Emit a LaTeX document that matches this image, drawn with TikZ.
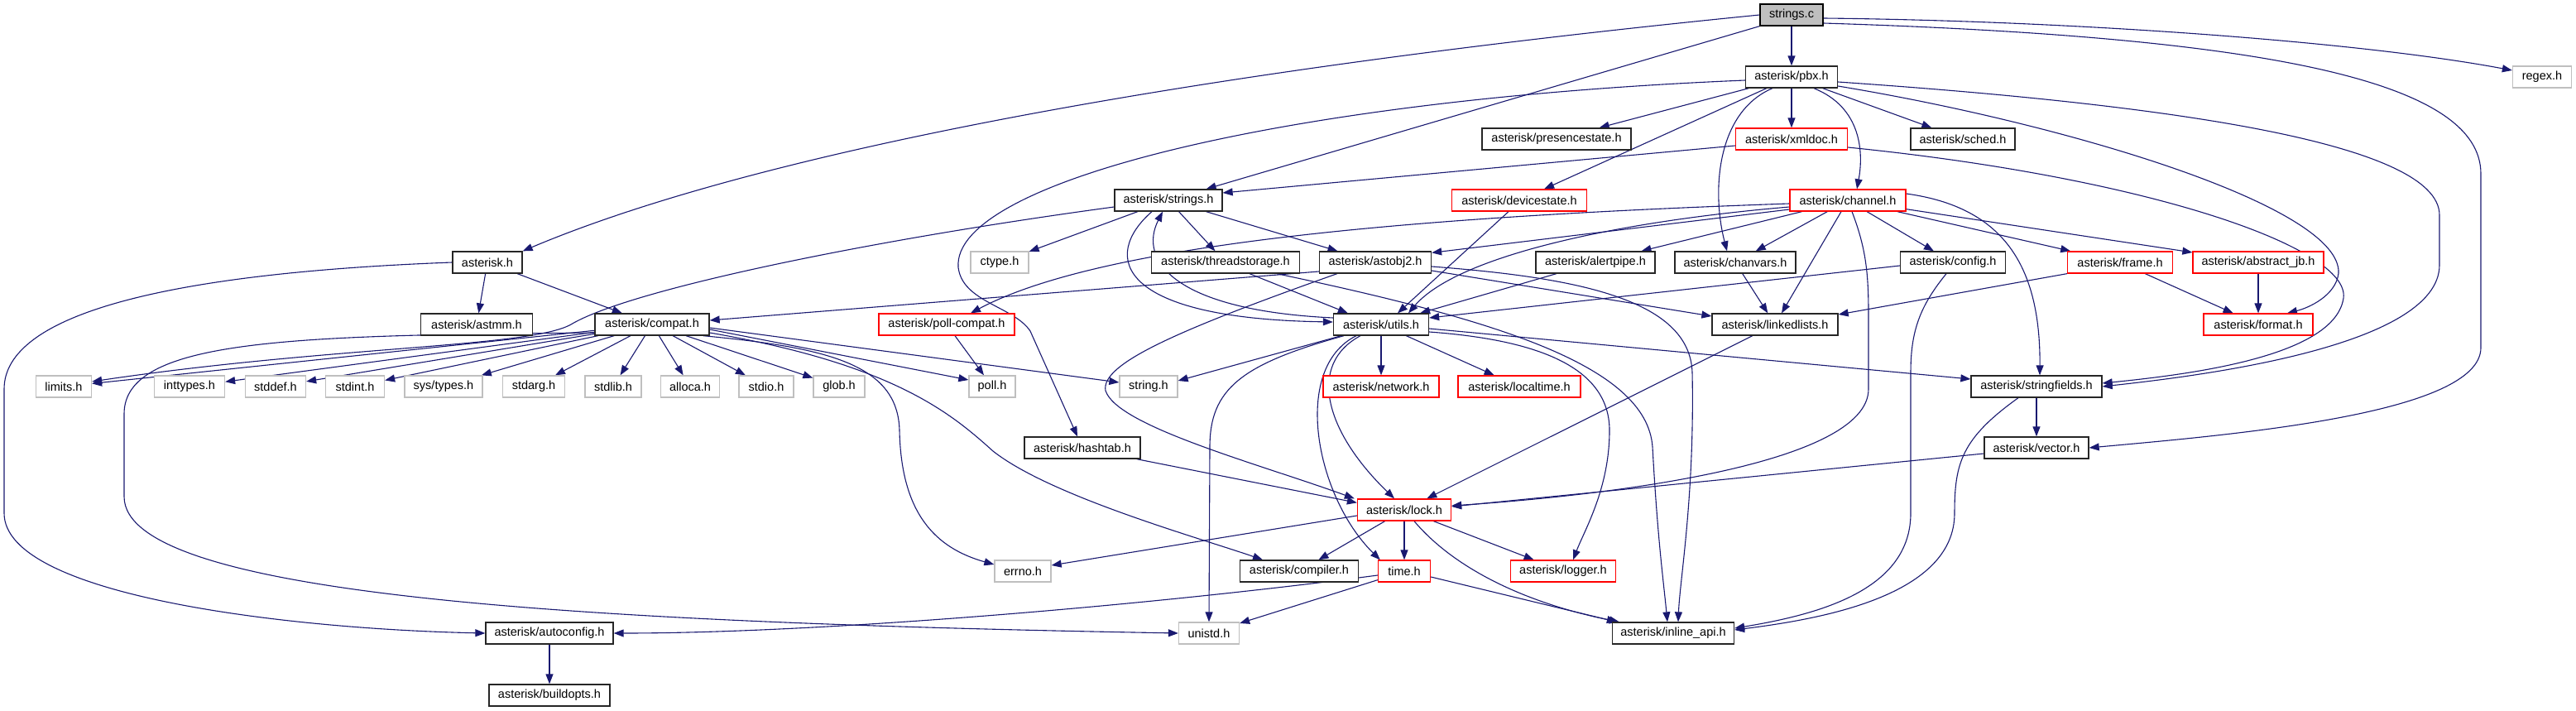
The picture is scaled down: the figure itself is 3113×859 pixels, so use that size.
\documentclass[tikz,border=0pt]{standalone}
\usepackage{fontspec}
\setmainfont{Liberation Sans}
\usetikzlibrary{arrows.meta,calc}
\definecolor{edgeblue}{HTML}{191970}
\definecolor{sysgray}{HTML}{BFBFBF}
\pgfdeclarelayer{bg}
\pgfsetlayers{bg,main}
\tikzset{
  nbox/.style={draw=black!85, line width=1.3pt, fill=white, minimum height=26pt, inner sep=0pt, font=\fontsize{14.5}{17}\selectfont},
  hdr/.style={nbox},
  redbox/.style={nbox, draw=red},
  sysbox/.style={nbox, draw=sysgray},
  rootbox/.style={nbox, fill=sysgray, draw=black},
  dep/.style={draw=edgeblue, line width=1.1pt, -{Triangle[length=12pt,width=9pt]}},
}
\begin{document}
\begin{tikzpicture}[x=1pt,y=-1pt]
\useasboundingbox (0,0) rectangle (3113,859);
% ---- nodes ----
\node[rootbox, minimum width=76pt] (sc) at (2165,18) {strings.c};
\node[hdr, minimum width=111pt] (pbx) at (2165,93) {asterisk/pbx.h};
\node[sysbox, minimum width=71pt] (regex) at (3072,93) {regex.h};
\node[hdr, minimum width=180pt] (pres) at (1881,168) {asterisk/presencestate.h};
\node[redbox, minimum width=135pt] (xmldoc) at (2165,168) {asterisk/xmldoc.h};
\node[hdr, minimum width=126pt] (sched) at (2372,168) {asterisk/sched.h};
\node[hdr, minimum width=130pt] (strh) at (1412,242) {asterisk/strings.h};
\node[redbox, minimum width=163pt] (dev) at (1836,242) {asterisk/devicestate.h};
\node[redbox, minimum width=140pt] (chan) at (2233,242) {asterisk/channel.h};
\node[hdr, minimum width=84pt] (ast) at (589,317) {asterisk.h};
\node[sysbox, minimum width=70pt] (ctype) at (1208,317) {ctype.h};
\node[hdr, minimum width=179pt] (thr) at (1481,317) {asterisk/threadstorage.h};
\node[hdr, minimum width=135pt] (aobj) at (1662,317) {asterisk/astobj2.h};
\node[hdr, minimum width=144pt] (alert) at (1928,317) {asterisk/alertpipe.h};
\node[hdr, minimum width=146pt] (chanvars) at (2097,317) {asterisk/chanvars.h};
\node[hdr, minimum width=127pt] (config) at (2360,317) {asterisk/config.h};
\node[redbox, minimum width=127pt] (frame) at (2562,317) {asterisk/frame.h};
\node[redbox, minimum width=158pt] (ajb) at (2729,317) {asterisk/abstract\_jb.h};
\node[hdr, minimum width=135pt] (astmm) at (576,392) {asterisk/astmm.h};
\node[hdr, minimum width=138pt] (compat) at (788,392) {asterisk/compat.h};
\node[redbox, minimum width=164pt] (pollc) at (1144,392) {asterisk/poll-compat.h};
\node[hdr, minimum width=115pt] (utils) at (1669,392) {asterisk/utils.h};
\node[hdr, minimum width=152pt] (ll) at (2145,392) {asterisk/linkedlists.h};
\node[redbox, minimum width=132pt] (format) at (2729,392) {asterisk/format.h};
\node[sysbox, minimum width=67pt] (limits) at (77,467) {limits.h};
\node[sysbox, minimum width=85pt] (inttypes) at (229,467) {inttypes.h};
\node[sysbox, minimum width=73pt] (stddef) at (333,467) {stddef.h};
\node[sysbox, minimum width=71pt] (stdint) at (429,467) {stdint.h};
\node[sysbox, minimum width=94pt] (systypes) at (536,467) {sys/types.h};
\node[sysbox, minimum width=75pt] (stdarg) at (645,467) {stdarg.h};
\node[sysbox, minimum width=68pt] (stdlib) at (741,467) {stdlib.h};
\node[sysbox, minimum width=71pt] (alloca) at (834,467) {alloca.h};
\node[sysbox, minimum width=66pt] (stdio) at (926,467) {stdio.h};
\node[sysbox, minimum width=62pt] (glob) at (1014,467) {glob.h};
\node[sysbox, minimum width=56pt] (poll) at (1199,467) {poll.h};
\node[sysbox, minimum width=70pt] (string) at (1388,467) {string.h};
\node[redbox, minimum width=140pt] (network) at (1669,467) {asterisk/network.h};
\node[redbox, minimum width=148pt] (localtime) at (1836,467) {asterisk/localtime.h};
\node[hdr, minimum width=158pt] (sf) at (2461,467) {asterisk/stringfields.h};
\node[hdr, minimum width=140pt] (hashtab) at (1308,541) {asterisk/hashtab.h};
\node[hdr, minimum width=126pt] (vector) at (2461,541) {asterisk/vector.h};
\node[redbox, minimum width=113pt] (lock) at (1697,616) {asterisk/lock.h};
\node[sysbox, minimum width=68pt] (errno) at (1236,690) {errno.h};
\node[hdr, minimum width=143pt] (compiler) at (1570,690) {asterisk/compiler.h};
\node[redbox, minimum width=63pt] (time) at (1697,690) {time.h};
\node[redbox, minimum width=127pt] (logger) at (1889,690) {asterisk/logger.h};
\node[hdr, minimum width=154pt] (autoconf) at (664,765) {asterisk/autoconfig.h};
\node[sysbox, minimum width=73pt] (unistd) at (1461,765) {unistd.h};
\node[hdr, minimum width=147pt] (inline) at (2022,765) {asterisk/inline\_api.h};
\node[hdr, minimum width=146pt] (buildopts) at (664,840) {asterisk/buildopts.h};
% ---- edges ----
\begin{pgfonlayer}{bg}
% strings.c
\draw[dep] (sc) -- (pbx);
\draw[dep] (sc.west) .. controls (1400,90) and (900,190) .. (ast.north east);
\draw[dep] (sc.south west) -- ($(strh.north east)+(-20,0)$);
\draw[dep] ($(sc.east)+(0,4)$) .. controls (2500,25) and (2850,50) .. ($(regex.west)+(0,-8)$);
\draw[dep] ($(sc.east)+(0,10)$) .. controls (2750,45) and (2998,100) .. (2998,210) -- (2998,420) .. controls (2998,500) and (2700,525) .. (vector.east);
% pbx.h
\draw[dep] (pbx) -- (pres);
\draw[dep] (pbx) -- (xmldoc);
\draw[dep] (pbx) -- (sched);
\draw[dep] (pbx) -- (dev);
\draw[dep] ($(pbx.south)+(27,0)$) .. controls (2250,130) and (2252,185) .. ($(chan.north)+(11,0)$);
\draw[dep] ($(pbx.south)+(-23,0)$) .. controls (2075,135) and (2068,230) .. ($(chanvars.north)+(-10,0)$);
\draw[dep] ($(pbx.west)+(0,4)$) .. controls (1550,120) and (1150,220) .. (1158,323) .. controls (1163,365) and (1225,370) .. (1245,400) -- ($(hashtab.north)+(-6,0)$);
\draw[dep] ($(pbx.east)+(0,6)$) .. controls (2600,125) and (2948,170) .. (2948,260) -- (2948,320) .. controls (2948,420) and (2650,455) .. (sf.east);
\draw[dep] ($(pbx.east)+(0,11)$) .. controls (2500,150) and (2830,250) .. (2826,330) .. controls (2823,357) and (2790,372) .. ($(format.north)+(35,0)$);
% xmldoc.h
\draw[dep] ($(xmldoc.west)+(0,8)$) -- ($(strh.east)+(0,-9)$);
\draw[dep] ($(xmldoc.east)+(0,10)$) .. controls (2600,215) and (2840,300) .. (2832,360) .. controls (2822,430) and (2650,452) .. ($(sf.east)+(0,-4)$);
% devicestate.h
\draw[dep] ($(dev.south)+(-13,0)$) -- ($(utils.north)+(20,0)$);
% channel.h
\draw[dep] ($(chan.west)+(0,4)$) .. controls (1700,262) and (1330,295) .. ($(pollc.north)+(29,0)$);
\draw[dep] ($(chan.west)+(0,8)$) .. controls (1950,268) and (1760,310) .. ($(utils.north)+(33,0)$);
\draw[dep] ($(chan.west)+(0,11)$) -- ($(aobj.north east)+(0,2)$);
\draw[dep] (chan) -- (alert);
\draw[dep] (chan) -- (chanvars);
\draw[dep] (chan) -- (ll);
\draw[dep] ($(chan.south)+(5,0)$) .. controls (2255,300) and (2258,330) .. (2258,380) -- (2258,470) .. controls (2258,560) and (1950,598) .. ($(lock.east)+(0,-5)$);
\draw[dep] (chan) -- (config);
\draw[dep] ($(chan.east)+(0,-8)$) .. controls (2420,250) and (2466,320) .. ($(sf.north)+(4,0)$);
\draw[dep] (chan) -- (frame);
\draw[dep] (chan) -- (ajb);
% astobj2.h
\draw[dep] ($(aobj.west)+(0,11)$) -- ($(compat.east)+(0,-5)$);
\draw[dep] ($(aobj.south west)+(22,0)$) .. controls (1420,400) and (1330,440) .. (1336,472) .. controls (1350,515) and (1520,560) .. ($(lock.north west)+(-3,0)$);
\draw[dep] ($(aobj.east)+(0,10)$) -- ($(ll.west)+(0,-10)$);
\draw[dep] ($(aobj.east)+(0,5)$) .. controls (1900,335) and (2042,360) .. (2045,450) .. controls (2048,600) and (2030,700) .. ($(inline.north)+(6,0)$);
% threadstorage.h
\draw[dep] ($(thr.south)+(29,0)$) -- ($(utils.north west)+(18,0)$);
\draw[dep] ($(thr.south)+(62,0)$) .. controls (1800,385) and (1990,440) .. (1997,540) .. controls (2003,650) and (2010,700) .. ($(inline.north)+(-7,0)$);
% strings.h
\draw[dep] (strh) -- (ctype);
\draw[dep] (strh) -- (thr);
\draw[dep] (strh) -- (aobj);
\draw[dep] ($(strh.south)+(-20,0)$) .. controls (1330,310) and (1350,385) .. ($(utils.west)+(0,-3)$);
\draw[dep] ($(utils.west)+(0,-8)$) .. controls (1420,375) and (1375,315) .. ($(strh.south)+(-7,0)$);
\draw[dep] ($(strh.west)+(0,8)$) .. controls (1050,290) and (760,350) .. (690,392) .. controls (640,420) and (400,418) .. ($(limits.east)+(0,-6)$);
% utils.h
\draw[dep] (utils) -- (network);
\draw[dep] (utils) -- (localtime);
\draw[dep] ($(utils.south)+(-25,0)$) .. controls (1580,440) and (1600,520) .. ($(lock.north)+(-12,0)$);
\draw[dep] ($(utils.south)+(-30,0)$) .. controls (1560,445) and (1590,600) .. ($(time.north west)+(3,0)$);
\draw[dep] ($(utils.south)+(-45,0)$) .. controls (1500,440) and (1462,470) .. (1462,540) -- (unistd.north);
\draw[dep] ($(utils.south west)+(10,0)$) -- ($(string.east)+(0,-7)$);
\draw[dep] ($(utils.east)+(0,5)$) -- ($(sf.west)+(0,-9)$);
\draw[dep] ($(utils.east)+(0,9)$) .. controls (1850,410) and (1945,440) .. (1945,520) .. controls (1945,590) and (1915,640) .. ($(logger.north)+(12,0)$);
% asterisk.h
\draw[dep] (ast) -- (astmm);
\draw[dep] (ast) -- (compat);
\draw[dep] (ast.west) .. controls (200,330) and (5,380) .. (5,470) -- (5,620) .. controls (5,720) and (350,760) .. (autoconf.west);
% compat.h
\draw[dep] (compat) -- (limits);
\draw[dep] (compat) -- (inttypes);
\draw[dep] (compat) -- (stddef);
\draw[dep] (compat) -- (stdint);
\draw[dep] (compat) -- (systypes);
\draw[dep] (compat) -- (stdarg);
\draw[dep] (compat) -- (stdlib);
\draw[dep] (compat) -- (alloca);
\draw[dep] (compat) -- (stdio);
\draw[dep] (compat) -- (glob);
\draw[dep] ($(compat.east)+(0,6)$) -- ($(poll.west)+(0,-8)$);
\draw[dep] ($(compat.east)+(0,4)$) -- ($(string.west)+(0,-5)$);
\draw[dep] ($(compat.south east)+(-8,0)$) .. controls (1000,420) and (1085,440) .. (1087,520) .. controls (1089,620) and (1130,662) .. ($(errno.west)+(0,-8)$);
\draw[dep] ($(compat.east)+(0,10)$) .. controls (1080,440) and (1150,500) .. (1200,545) .. controls (1270,600) and (1450,650) .. ($(compiler.north)+(-44,0)$);
\draw[dep] ($(compat.west)+(0,10)$) .. controls (350,405) and (150,410) .. (150,500) -- (150,600) .. controls (150,720) and (700,752) .. (unistd.west);
% poll-compat.h
\draw[dep] (pollc) -- (poll);
% lock.h
\draw[dep] ($(lock.west)+(0,7)$) -- ($(errno.east)+(0,-7)$);
\draw[dep] (lock) -- (compiler);
\draw[dep] (lock) -- (time);
\draw[dep] (lock) -- (logger);
\draw[dep] ($(lock.south)+(12,0)$) .. controls (1760,690) and (1850,730) .. ($(inline.north west)+(9,0)$);
% time.h
\draw[dep] ($(time.west)+(0,5)$) .. controls (1400,730) and (1000,765) .. (autoconf.east);
\draw[dep] ($(time.south west)+(0,-3)$) -- ($(unistd.east)+(0,-12)$);
\draw[dep] ($(time.east)+(0,7)$) -- ($(inline.north west)+(6,0)$);
% others
\draw[dep] (autoconf) -- (buildopts);
\draw[dep] (ll) -- (lock);
\draw[dep] ($(hashtab.south east)+(-5,0)$) -- ($(lock.north west)+(0,5)$);
\draw[dep] ($(vector.west)+(0,7)$) -- ($(lock.east)+(0,-4)$);
\draw[dep] (sf) -- (vector);
\draw[dep] ($(sf.south)+(-22,0)$) .. controls (2370,530) and (2362,560) .. (2362,620) .. controls (2362,720) and (2200,748) .. ($(inline.east)+(0,-4)$);
\draw[dep] ($(config.south)+(-8,0)$) .. controls (2320,370) and (2309,400) .. (2309,450) -- (2309,620) .. controls (2309,712) and (2200,742) .. ($(inline.east)+(0,-6)$);
\draw[dep] ($(config.west)+(0,4)$) -- ($(utils.east)+(0,-8)$);
\draw[dep] (chanvars) -- (ll);
\draw[dep] (alert) -- (utils);
\draw[dep] (frame.south west) -- ($(ll.east)+(0,-12)$);
\draw[dep] (frame) -- (format);
\draw[dep] (ajb) -- (format);
\end{pgfonlayer}
\end{tikzpicture}
\end{document}
